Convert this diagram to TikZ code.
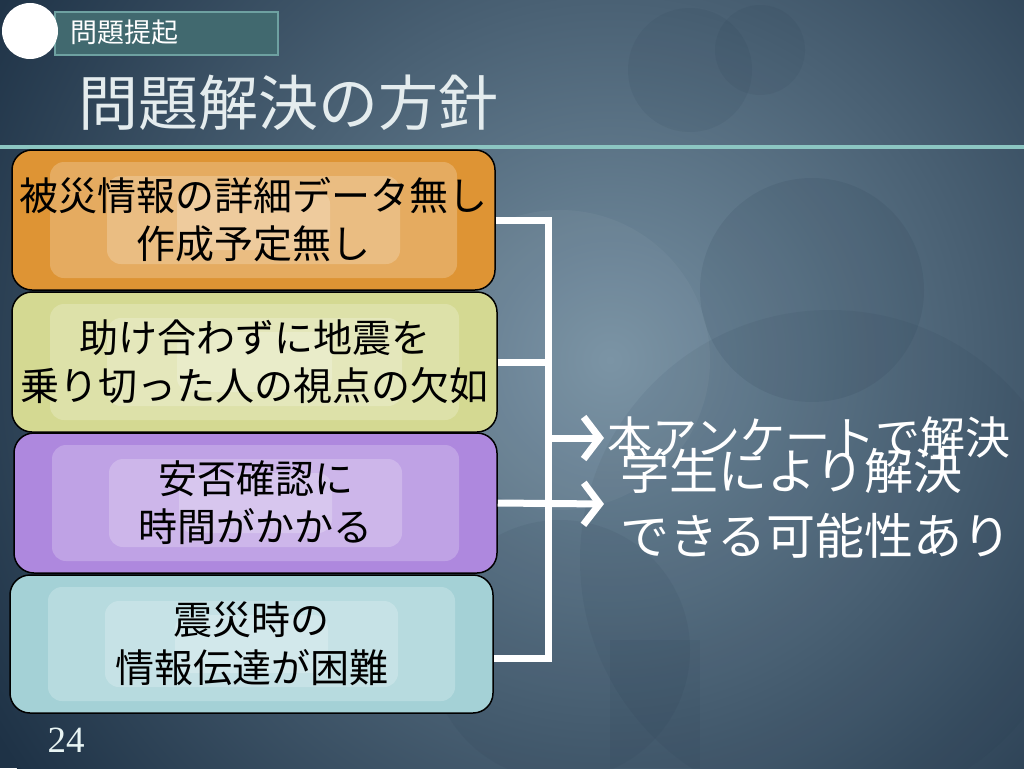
\documentclass[tikz,border=0pt]{standalone}
\usepackage{fontspec}
\setmainfont{Liberation Serif}
\newfontfamily\jpfont{Noto Sans CJK JP}
\usetikzlibrary{arrows.meta, positioning, calc}
\definecolor{bgdark}{HTML}{1E3246}
\definecolor{bgmid}{HTML}{7690A2}
\definecolor{tabteal}{HTML}{41696F}
\definecolor{rulecol}{HTML}{8CC6C2}
\definecolor{corange}{HTML}{DE9434}
\definecolor{cyellow}{HTML}{D4D992}
\definecolor{cpurple}{HTML}{AE88DE}
\definecolor{ccyan}{HTML}{A4D1D6}
\definecolor{titlegrey}{HTML}{E4ECEE}
\tikzset{
  every picture/.style={x=1pt, y=-1pt},
  glow/.style={fill=white, fill opacity=0.22, rounded corners=14pt},
  item/.style={draw=black, line width=1.5pt, rounded corners=20pt, fill=#1, text=black, align=center,
    font=\jpfont\fontsize{39}{48}\selectfont, minimum width=483pt, minimum height=140pt, inner sep=0pt,
    path picture={
      \foreach \sx/\sy in {38/12, 95/26, 165/40}
        \fill[glow] ($(path picture bounding box.north west)+(\sx pt,-\sy pt)$)
          rectangle ($(path picture bounding box.south east)+(-\sx pt,\sy pt)$);
    }},
  bracket/.style={draw=white, line width=7pt},
  arrow/.style={bracket, -{Straight Barb[length=16pt, width=42pt]}},
  result/.style={text=white, inner sep=0pt, align=left},
}
\begin{document}
\begin{tikzpicture}
  \useasboundingbox (0,0) rectangle (1024,768);
  % background
  \begin{scope}
    \clip (0,0) rectangle (1024,768);
    \fill[bgdark] (0,0) rectangle (1024,768);
    \shade[inner color=bgmid, outer color=bgdark] (610,360) circle (720);
    \fill[bgdark, opacity=0.10] (812,290) circle (112);
    \fill[bgdark, opacity=0.08] (830,560) circle (250);
    \fill[bgdark, opacity=0.08] (690,70) circle (62);
    \fill[bgdark, opacity=0.08] (760,50) circle (45);
    \fill[white, opacity=0.04] (560,360) circle (150);
    \fill[bgdark, opacity=0.08] (560,650) circle (130);
    \fill[bgdark, opacity=0.08] (610,640) rectangle (700,768);
  \end{scope}
  % header
  \node[draw=rulecol!60!tabteal, line width=1.5pt, fill=tabteal, minimum width=223pt, minimum height=43pt, inner sep=0pt] (tab) at (166.5,33.5) {};
  \fill[white] (30,31) circle (28);
  \node[anchor=west, text=white, font=\jpfont\fontsize{27}{30}\selectfont, inner sep=0pt] (tabtext) at (70,32) {問題提起};
  \node[anchor=west, text=titlegrey, font=\jpfont\fontsize{60}{64}\selectfont, inner sep=0pt] (title) at (78,103) {問題解決の方針};
  \draw[rulecol, line width=4pt] (0,147) -- (1024,147);
  % problems
  \node[item=corange] (b1) at (253.5,220) {被災情報の詳細データ無し\\作成予定無し};
  \node[item=cyellow, minimum width=485pt] (b2) at (254.5,362) {助け合わずに地震を\\乗り切った人の視点の欠如};
  \node[item=cpurple] (b3) at (255.5,503) {安否確認に\\時間がかかる};
  \node[item=ccyan, minimum height=138pt] (b4) at (251.5,644) {震災時の\\情報伝達が困難};
  % results
  \node[result, anchor=west, font=\jpfont\fontsize{45}{50}\selectfont] (r1) at (607,437) {本アンケートで解決};
  \node[result, anchor=west, font=\jpfont\fontsize{49}{65}\selectfont] (r2) at (620,503) {学生により解決\\できる可能性あり};
  % bracket and arrows
  \coordinate (jt) at (548,220);
  \coordinate (jb) at (548,658);
  \coordinate (jm) at (548,438);
  \coordinate (t1) at (604,438);
  \coordinate (t2) at (604,504);
  \draw[bracket] (b1.east) -- (jt) -- (jb) -- (b4.east |- jb);
  \draw[bracket] (b2.east) -- (b2.east -| jt);
  \draw[arrow] (jm) -- (t1);
  \draw[arrow] (b3.east) -- (t2);
  % page number
  \node[text=white!80!rulecol, font=\fontsize{37}{40}\selectfont, inner sep=0pt] (page) at (66,740) {24};
\end{tikzpicture}
\end{document}
